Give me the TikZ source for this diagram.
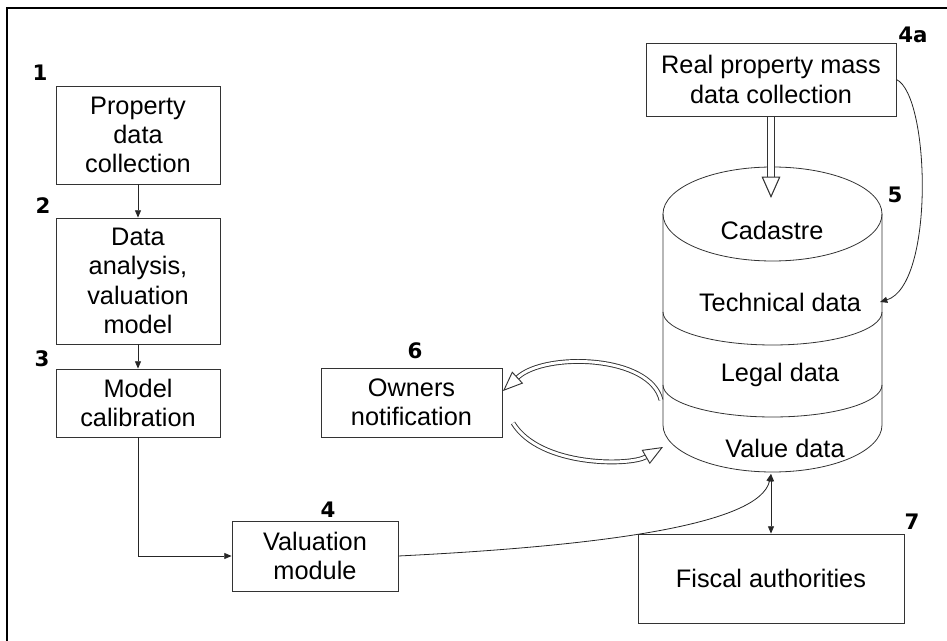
\documentclass[tikz,border=0pt]{standalone}
\usepackage{fontspec}
\setmainfont{Liberation Sans}
\newfontfamily\numfont{DejaVu Sans}
\usetikzlibrary{arrows.meta}

\tikzset{every picture/.style={line width=0.6pt}}
\tikzset{
  box/.style={draw=black!80, align=center, inner sep=0pt, font=\fontsize{19}{22}\selectfont},
  txt/.style={align=center, inner sep=0pt, font=\fontsize{19}{22}\selectfont},
  num/.style={inner sep=0pt, font=\numfont\bfseries\fontsize{16}{16}\selectfont},
  link/.style={draw=black!85, -{Triangle[length=5.5pt,width=4.5pt]}},
  hollow/.style={draw=black!80, line width=0.7pt, double=white, double distance=2.2pt, -{Triangle[open,fill=white,length=15pt,width=12pt,line width=0.7pt]}},
  hollowbig/.style={draw=black!80, line width=0.8pt, double=white, double distance=4.5pt, -{Triangle[open,fill=white,length=16pt,width=14pt,line width=0.8pt]}},
}

\begin{document}
\begin{tikzpicture}[x=0.75pt,y=0.75pt,yscale=-1,xscale=1]
\useasboundingbox (0,0) rectangle (947,641);

%Frame
\draw [line width=1.5pt] (7,641) -- (7,8) -- (947,8) ;

%Shape: Can
\draw [draw=black!80] (663,214) -- (663,425) arc [start angle=180, end angle=0, x radius=109.5, y radius=47] -- (882,214) ;
\draw [draw=black!80] (772.5,214) ellipse [x radius=109.5, y radius=47] ;
\draw [draw=black!80] (663,312) arc [start angle=180, end angle=0, x radius=109.5, y radius=33] ;
\draw [draw=black!80] (663,385) arc [start angle=180, end angle=0, x radius=109.5, y radius=32] ;

%Connector ends
\coordinate (massbot) at (771,116);
\coordinate (cyltop) at (771,198);
\coordinate (techin) at (880,302);
\coordinate (valbot) at (771,474);
\coordinate (canleft) at (661,400);
\coordinate (ownin) at (503,391);
\coordinate (ownout) at (513,423);
\coordinate (canin) at (663,447);

%Hollow Arrows
\draw [hollowbig] (massbot) -- (cyltop) ;
\draw [hollow] (canleft) .. controls (650,355) and (545,352) .. (ownin) ;
\draw [hollow] (ownout) .. controls (540,467) and (630,466) .. (canin) ;

%Shape: Rectangle
\node [box, minimum width=123pt, minimum height=73.5pt] (prop) at (138,135) {Property\\data\\collection};
%Shape: Rectangle
\node [box, minimum width=123pt, minimum height=94.5pt] (anal) at (138,281) {Data\\analysis,\\valuation\\model};
%Shape: Rectangle
\node [box, minimum width=123pt, minimum height=51pt] (calib) at (138,403) {Model\\calibration};
%Shape: Rectangle
\node [box, minimum width=124.5pt, minimum height=52.5pt] (valmod) at (315,556) {Valuation\\module};
%Shape: Rectangle
\node [box, minimum width=135.75pt, minimum height=51.75pt] (owners) at (411.5,402.5) {Owners\\notification};
%Shape: Rectangle
\node [box, minimum width=187.5pt, minimum height=54.75pt] (mass) at (771,79.5) {Real property mass\\data collection};
%Shape: Rectangle
\node [box, minimum width=199.5pt, minimum height=66.75pt] (fisc) at (771,578.5) {Fiscal authorities};

% Text Node
\node [txt] (cad) at (772,230) {Cadastre};
\node [txt] (tech) at (780,302) {Technical data};
\node [txt] (legal) at (780,375) {Legal data};
\node [txt] (value) at (785,448) {Value data};

% Labels
\node [num] (n1) at (40,73) {1};
\node [num] (n2) at (43,206) {2};
\node [num] (n3) at (42,359) {3};
\node [num] (n4) at (328,510) {4};
\node [num] (n4a) at (913,35) {4a};
\node [num] (n5) at (895,195) {5};
\node [num] (n6) at (415,351) {6};
\node [num] (n7) at (912,522) {7};

%Straight Lines
\draw [link] (prop) -- (anal) ;
\draw [link] (anal) -- (calib) ;
\draw [link] (calib.south) |- (valmod.west) ;
\draw [draw=black!85, {Triangle[length=5.5pt,width=4.5pt]}-{Triangle[length=5.5pt,width=4.5pt]}] (valbot) -- (fisc.north) ;

%Curve Lines
\draw [link] (valmod.east) .. controls (600,546) and (760,525) .. (valbot) ;
\draw [link] (mass.east) .. controls (930,95) and (935,285) .. (techin) ;

\end{tikzpicture}
\end{document}
